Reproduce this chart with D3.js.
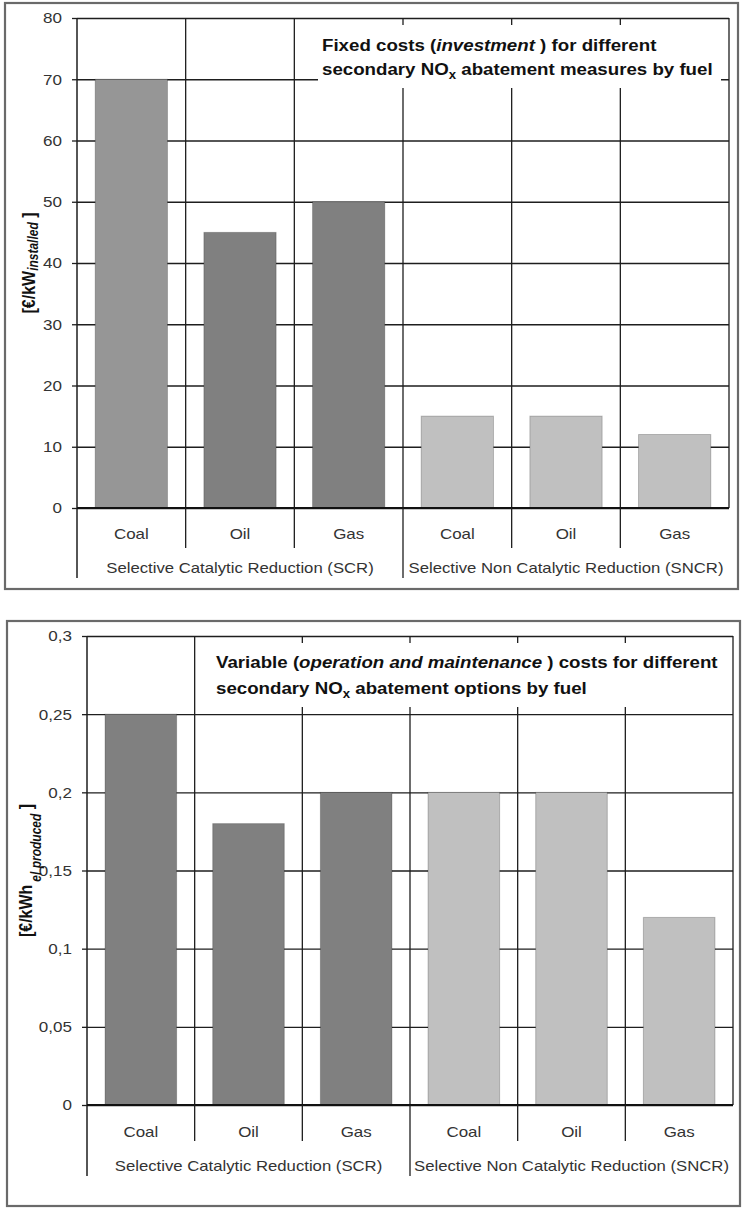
<!DOCTYPE html>
<html><head><meta charset="utf-8">
<script src="https://cdn.jsdelivr.net/npm/d3@7"></script>
<style>
body{margin:0;background:#fff}
svg{display:block}
text{font-family:"Liberation Sans",Arial,Helvetica,sans-serif}
</style>
</head><body>
<svg id="c" width="742" height="1208"></svg>
<script>
// ---------- DATA ----------
const groups = ["Selective Catalytic Reduction (SCR)", "Selective Non Catalytic Reduction (SNCR)"];
const fuels = ["Coal", "Oil", "Gas"];
const categories = ["SCR-Coal", "SCR-Oil", "SCR-Gas", "SNCR-Coal", "SNCR-Oil", "SNCR-Gas"];
const categoryFuel = ["Coal", "Oil", "Gas", "Coal", "Oil", "Gas"];
const categoryGroup = [0, 0, 0, 1, 1, 1];
const fixedCosts = [70, 45, 50, 15, 15, 12];          // €/kW installed
const variableCosts = [0.25, 0.18, 0.20, 0.20, 0.20, 0.12]; // €/kWh el produced
const fixedTicks = [0, 10, 20, 30, 40, 50, 60, 70, 80];
const variableTicks = [0, 0.05, 0.1, 0.15, 0.2, 0.25, 0.3];

// ---------- STYLES ----------
const fixedColors = ["#969696", "#808080", "#808080", "#c0c0c0", "#c0c0c0", "#c0c0c0"];
const variableColors = ["#808080", "#808080", "#808080", "#c0c0c0", "#c0c0c0", "#c0c0c0"];
const SX_TICK = 1.1, SX_CAT = 1.13, SX_TITLE = 1.1, SX_YLAB = 1.15;
const commaLocale = d3.formatLocale({decimal: ",", thousands: ".", grouping: [3], currency: ["", "€"]});
const fmtComma = commaLocale.format("~g");

const svg = d3.select("#c");

function addTitle(parent, x, y, parts, size) {
  const t = parent.append("g").attr("transform", `translate(${x},${y}) scale(${SX_TITLE},1)`)
    .append("text").attr("font-size", size).attr("font-weight", "bold").attr("fill", "#111");
  let shift = 0;
  parts.forEach(p => {
    const ts = t.append("tspan").text(p.t);
    if (p.i) ts.attr("font-style", "italic");
    if (p.sub) { ts.attr("font-size", 12).attr("dy", p.sub - shift); shift = p.sub; }
    else if (shift) { ts.attr("dy", -shift); shift = 0; }
  });
  return t;
}

function drawChart(o) {
  const g = svg.append("g");
  g.append("rect").attr("x", o.frame[0]).attr("y", o.frame[1]).attr("width", o.frame[2]).attr("height", o.frame[3])
    .attr("fill", "#fff").attr("stroke", "#6a6a6a").attr("stroke-width", 2.2);

  const x = d3.scaleBand().domain(categories).range([o.l, o.r]).paddingInner(0).paddingOuter(0);
  const y = d3.scaleLinear().domain([0, d3.max(o.ticks)]).range([o.b, o.t]);
  const lineCol = "#1e1e1e", lw = 1.3;

  // horizontal gridlines
  g.append("g").attr("transform", `translate(${o.l},0)`)
    .call(d3.axisLeft(y).tickValues(o.ticks).tickSize(-(o.r - o.l)).tickFormat(""))
    .call(s => s.select(".domain").remove())
    .selectAll("line").attr("stroke", lineCol).attr("stroke-width", lw);

  // vertical gridlines (category boundaries) + right border
  const bounds = categories.slice(1).map(d => x(d)).concat([o.r]);
  g.selectAll(".vg").data(bounds).join("line")
    .attr("x1", d => d).attr("x2", d => d).attr("y1", o.t).attr("y2", o.b)
    .attr("stroke", lineCol).attr("stroke-width", lw);

  // bars
  const bw = x.bandwidth() * 0.665;
  g.selectAll(".bar").data(o.values).join("rect")
    .attr("x", (d, i) => x(categories[i]) + (x.bandwidth() - bw) / 2)
    .attr("width", bw)
    .attr("y", d => y(d)).attr("height", d => y(0) - y(d))
    .attr("fill", (d, i) => o.colors[i])
    .attr("stroke", "rgba(0,0,0,0.22)").attr("stroke-width", 1);

  // title box
  g.append("rect").attr("x", o.box[0]).attr("y", o.box[1]).attr("width", o.box[2]).attr("height", o.box[3]).attr("fill", "#fff");
  addTitle(g, o.titleX, o.titleY[0], o.title1, 17);
  addTitle(g, o.titleX, o.titleY[1], o.title2, 17);

  // y axis with labels
  const ya = g.append("g").attr("transform", `translate(${o.l},0)`)
    .call(d3.axisLeft(y).tickValues(o.ticks).tickSize(5).tickPadding(10).tickSizeOuter(0).tickFormat(o.fmt));
  ya.select(".domain").remove();
  ya.selectAll("line").attr("stroke", lineCol).attr("stroke-width", lw);
  ya.selectAll("text").attr("font-size", 15.5).attr("fill", "#333")
    .attr("font-family", "'Liberation Sans',Arial,sans-serif")
    .attr("x", -15 / SX_TICK).attr("transform", `scale(${SX_TICK},1)`);

  // left axis line extending down to group label area
  g.append("line").attr("x1", o.l).attr("x2", o.l).attr("y1", o.t).attr("y2", o.groupBottom)
    .attr("stroke", lineCol).attr("stroke-width", 1.5);
  // baseline
  g.append("line").attr("x1", o.l).attr("x2", o.r).attr("y1", y(0)).attr("y2", y(0))
    .attr("stroke", "#111").attr("stroke-width", 1.8);

  // dividers below axis
  categories.slice(1).forEach((c, k) => {
    const i = k + 1;
    const isGroup = categoryGroup[i] !== categoryGroup[i - 1];
    g.append("line").attr("x1", x(c)).attr("x2", x(c)).attr("y1", y(0))
      .attr("y2", isGroup ? o.groupBottom : o.catBottom)
      .attr("stroke", lineCol).attr("stroke-width", lw);
  });

  // category labels
  categories.forEach((c, i) => {
    g.append("g").attr("transform", `translate(${x(c) + x.bandwidth() / 2},${o.catY}) scale(${SX_CAT},1)`)
      .append("text").attr("text-anchor", "middle").attr("font-size", 15).attr("fill", "#333")
      .text(categoryFuel[i]);
  });
  // group labels
  groups.forEach((gname, gi) => {
    const idx = categories.filter((c, i) => categoryGroup[i] === gi);
    const x0 = x(idx[0]), x1 = x(idx[idx.length - 1]) + x.bandwidth();
    g.append("g").attr("transform", `translate(${(x0 + x1) / 2},${o.groupY}) scale(${SX_CAT},1)`)
      .append("text").attr("text-anchor", "middle").attr("font-size", 14.8).attr("fill", "#333")
      .text(gname);
  });

  // y label (rotated)
  const yl = g.append("g").attr("transform", `translate(${o.ylab[0]},${(o.t + o.b) / 2}) scale(${SX_YLAB},1) rotate(-90)`)
    .append("text").attr("text-anchor", "middle").attr("font-weight", "bold").attr("fill", "#111").attr("font-size", 16);
  yl.append("tspan").text(o.ylabMain);
  yl.append("tspan").attr("font-size", 12).attr("font-style", "italic")
    .attr("dx", o.ylab[2]).attr("dy", o.ylab[1]).text(o.ylabSub);
  yl.append("tspan").attr("dy", -o.ylab[1]).text(o.ylabEnd);
}

drawChart({
  frame: [5, 3, 733, 586],
  l: 77, r: 729, t: 18, b: 508,
  values: fixedCosts, colors: fixedColors, ticks: fixedTicks, fmt: d3.format("d"),
  box: [318, 25, 403, 63], titleX: 322, titleY: [51, 75],
  title1: [{t: "Fixed costs ("}, {t: "investment", i: true}, {t: " ) for different"}],
  title2: [{t: "secondary NO"}, {t: "x", sub: 4}, {t: " abatement measures by fuel"}],
  catBottom: 548, groupBottom: 578, catY: 539, groupY: 573,
  ylab: [35, 3, 0], ylabMain: "[€/kW", ylabSub: "installed", ylabEnd: " ]"
});

drawChart({
  frame: [7, 621, 733, 585],
  l: 87, r: 733, t: 636, b: 1105,
  values: variableCosts, colors: variableColors, ticks: variableTicks, fmt: fmtComma,
  box: [210, 643, 518, 64], titleX: 216, titleY: [668, 694],
  title1: [{t: "Variable ("}, {t: "operation and maintenance", i: true}, {t: " ) costs for different"}],
  title2: [{t: "secondary NO"}, {t: "x", sub: 4}, {t: " abatement options by fuel"}],
  catBottom: 1141, groupBottom: 1176, catY: 1137, groupY: 1171,
  ylab: [32, 8, 3], ylabMain: "[€/kWh", ylabSub: "el produced", ylabEnd: " ]"
});
</script>
</body></html>
